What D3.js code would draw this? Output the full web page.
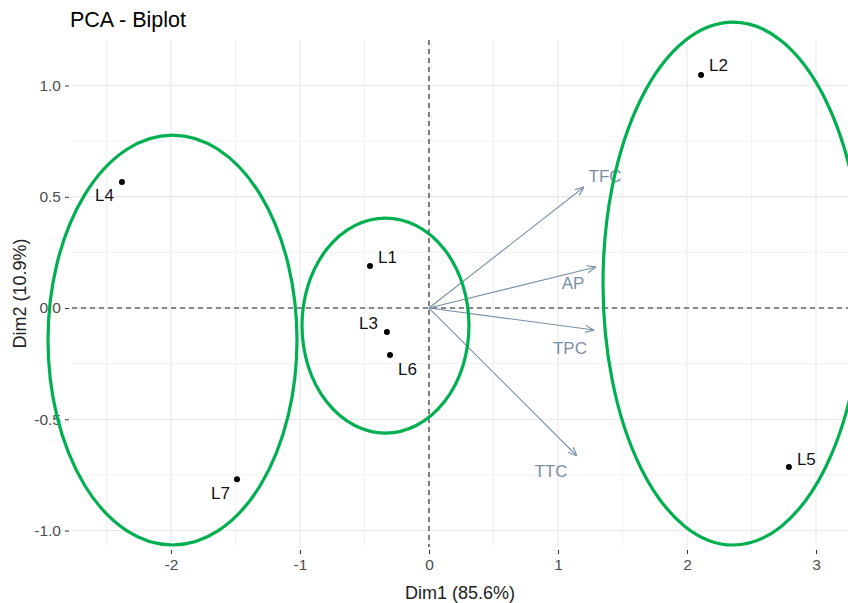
<!DOCTYPE html>
<html>
<head>
<meta charset="utf-8">
<script src="https://cdn.jsdelivr.net/npm/d3@7"></script>
<style>
  html, body { margin: 0; padding: 0; background: #fff; }
  svg { display: block; font-family: "Liberation Sans", Arial, sans-serif; }
</style>
</head>
<body>
<svg id="chart" width="848" height="603"></svg>
<script>
// Individuals: PCA coordinates on Dim1 / Dim2
const samples = ["L1", "L2", "L3", "L4", "L5", "L6", "L7"];
const dim1 = [-0.457, 2.109, -0.326, -2.380, 2.790, -0.302, -1.488];
const dim2 = [0.189, 1.047, -0.108, 0.566, -0.715, -0.211, -0.769];

// Variables: loading arrows
const variables = ["TFC", "AP", "TPC", "TTC"];
const varDim1 = [1.202, 1.295, 1.279, 1.147];
const varDim2 = [0.544, 0.184, -0.099, -0.665];

// Group ellipses (centre and radii in data units)
const groupCx = [-1.988, -0.337, 2.357];
const groupCy = [-0.144, -0.079, 0.110];
const groupRx = [0.965, 0.647, 1.008];
const groupRy = [0.921, 0.483, 1.175];

const xTicks = [-2, -1, 0, 1, 2, 3];
const yTicks = [-1.0, -0.5, 0.0, 0.5, 1.0];

// Label placement (pixel offsets from the mark to the text's centre line)
const sampleLabelPos = {
  L1: { dx: 8, dy: -9, anchor: "start" },
  L2: { dx: 8, dy: -10, anchor: "start" },
  L3: { dx: -9, dy: -9, anchor: "end" },
  L4: { dx: -8, dy: 13, anchor: "end" },
  L5: { dx: 8, dy: -8, anchor: "start" },
  L6: { dx: 8, dy: 14, anchor: "start" },
  L7: { dx: -7, dy: 14, anchor: "end" }
};
const varLabelPos = {
  TFC: { dx: 21, dy: -11 },
  AP: { dx: -23, dy: 16 },
  TPC: { dx: -24, dy: 18 },
  TTC: { dx: -26, dy: 15 }
};

const svg = d3.select("#chart");
const panel = { left: 72, right: 848, top: 40, bottom: 547 };

const x = d3.scaleLinear().domain([-2.767, 3.248]).range([panel.left, panel.right]);
const y = d3.scaleLinear().domain([-1.074, 1.2045]).range([panel.bottom, panel.top]);

// Grid
const grid = svg.append("g");
const xMinor = d3.range(-2.5, 3.3, 1).filter(v => v > x.domain()[0] && v < x.domain()[1]);
const yMinor = [-0.75, -0.25, 0.25, 0.75];
grid.selectAll(".xminor").data(xMinor).join("line")
  .attr("x1", d => x(d)).attr("x2", d => x(d))
  .attr("y1", panel.top).attr("y2", panel.bottom)
  .attr("stroke", "#f2f2f2").attr("stroke-width", 1);
grid.selectAll(".yminor").data(yMinor).join("line")
  .attr("y1", d => y(d)).attr("y2", d => y(d))
  .attr("x1", panel.left).attr("x2", panel.right)
  .attr("stroke", "#f2f2f2").attr("stroke-width", 1);
grid.selectAll(".xmajor").data(xTicks).join("line")
  .attr("x1", d => x(d)).attr("x2", d => x(d))
  .attr("y1", panel.top).attr("y2", panel.bottom)
  .attr("stroke", "#ebebeb").attr("stroke-width", 1.3);
grid.selectAll(".ymajor").data(yTicks).join("line")
  .attr("y1", d => y(d)).attr("y2", d => y(d))
  .attr("x1", panel.left).attr("x2", panel.right)
  .attr("stroke", "#ebebeb").attr("stroke-width", 1.3);

// Axes
const xAxis = svg.append("g")
  .attr("transform", `translate(0,${panel.bottom + 3})`)
  .call(d3.axisBottom(x).tickValues(xTicks).tickSize(4).tickPadding(5));
const yAxis = svg.append("g")
  .attr("transform", `translate(${panel.left - 3},0)`)
  .call(d3.axisLeft(y).tickValues(yTicks).tickSize(4).tickPadding(4));
[xAxis, yAxis].forEach(a => {
  a.select(".domain").remove();
  a.selectAll(".tick line").attr("stroke", "#333").attr("stroke-width", 1);
  a.selectAll(".tick text").attr("fill", "#4d4d4d").style("font-size", "15.5px")
    .style("font-family", "'Liberation Sans', Arial, sans-serif");
});
yAxis.selectAll(".tick text").text(d => d3.format(".1f")(d).replace("−", "-"));
xAxis.selectAll(".tick text").text(d => String(d));

// Reference lines through the origin
svg.append("line")
  .attr("x1", x(0)).attr("x2", x(0)).attr("y1", panel.top).attr("y2", panel.bottom)
  .attr("stroke", "#222").attr("stroke-width", 1.1).attr("stroke-dasharray", "5,4");
svg.append("line")
  .attr("y1", y(0)).attr("y2", y(0)).attr("x1", panel.left).attr("x2", panel.right)
  .attr("stroke", "#222").attr("stroke-width", 1.1).attr("stroke-dasharray", "5,4");

// Variable arrows
const arrowColor = "#7890a6";
svg.append("defs").append("marker")
  .attr("id", "arrowhead")
  .attr("markerUnits", "userSpaceOnUse")
  .attr("viewBox", "0 0 10 10")
  .attr("refX", 10).attr("refY", 5)
  .attr("markerWidth", 9).attr("markerHeight", 9)
  .attr("orient", "auto")
  .append("path")
  .attr("d", "M0,1 L10,5 L0,9")
  .attr("fill", "none").attr("stroke", arrowColor).attr("stroke-width", 1.3);

const vars = variables.map((v, i) => ({ name: v, x: varDim1[i], y: varDim2[i] }));
svg.append("g").selectAll("line").data(vars).join("line")
  .attr("x1", x(0)).attr("y1", y(0))
  .attr("x2", d => x(d.x)).attr("y2", d => y(d.y))
  .attr("stroke", arrowColor).attr("stroke-width", 1.1)
  .attr("marker-end", "url(#arrowhead)");
svg.append("g").selectAll("text").data(vars).join("text")
  .attr("x", d => x(d.x) + varLabelPos[d.name].dx)
  .attr("y", d => y(d.y) + varLabelPos[d.name].dy + 6)
  .attr("text-anchor", "middle")
  .attr("fill", arrowColor)
  .style("font-size", "17px")
  .text(d => d.name);

// Individuals
const pts = samples.map((s, i) => ({ name: s, x: dim1[i], y: dim2[i] }));
svg.append("g").selectAll("circle").data(pts).join("circle")
  .attr("cx", d => x(d.x)).attr("cy", d => y(d.y)).attr("r", 3)
  .attr("fill", "#000");
svg.append("g").selectAll("text").data(pts).join("text")
  .attr("x", d => x(d.x) + sampleLabelPos[d.name].dx)
  .attr("y", d => y(d.y) + sampleLabelPos[d.name].dy + 6)
  .attr("text-anchor", d => sampleLabelPos[d.name].anchor)
  .attr("fill", "#111")
  .style("font-size", "17px")
  .text(d => d.name);

// Group ellipses
const groups = groupCx.map((c, i) => ({ cx: c, cy: groupCy[i], rx: groupRx[i], ry: groupRy[i] }));
const kx = x(1) - x(0), ky = y(0) - y(1);
svg.append("g").selectAll("ellipse").data(groups).join("ellipse")
  .attr("cx", d => x(d.cx)).attr("cy", d => y(d.cy))
  .attr("rx", d => d.rx * kx).attr("ry", d => d.ry * ky)
  .attr("fill", "none").attr("stroke", "#00b050").attr("stroke-width", 3.2);

// Titles
svg.append("text")
  .attr("x", 70).attr("y", 27)
  .attr("fill", "#000").style("font-size", "21.5px")
  .text("PCA - Biplot");
svg.append("text")
  .attr("x", (panel.left + panel.right) / 2).attr("y", 599)
  .attr("text-anchor", "middle").attr("fill", "#222").style("font-size", "18px")
  .text("Dim1 (85.6%)");
svg.append("text")
  .attr("transform", `translate(26,${(panel.top + panel.bottom) / 2}) rotate(-90)`)
  .attr("text-anchor", "middle").attr("fill", "#222").style("font-size", "18px")
  .text("Dim2 (10.9%)");
</script>
</body>
</html>
